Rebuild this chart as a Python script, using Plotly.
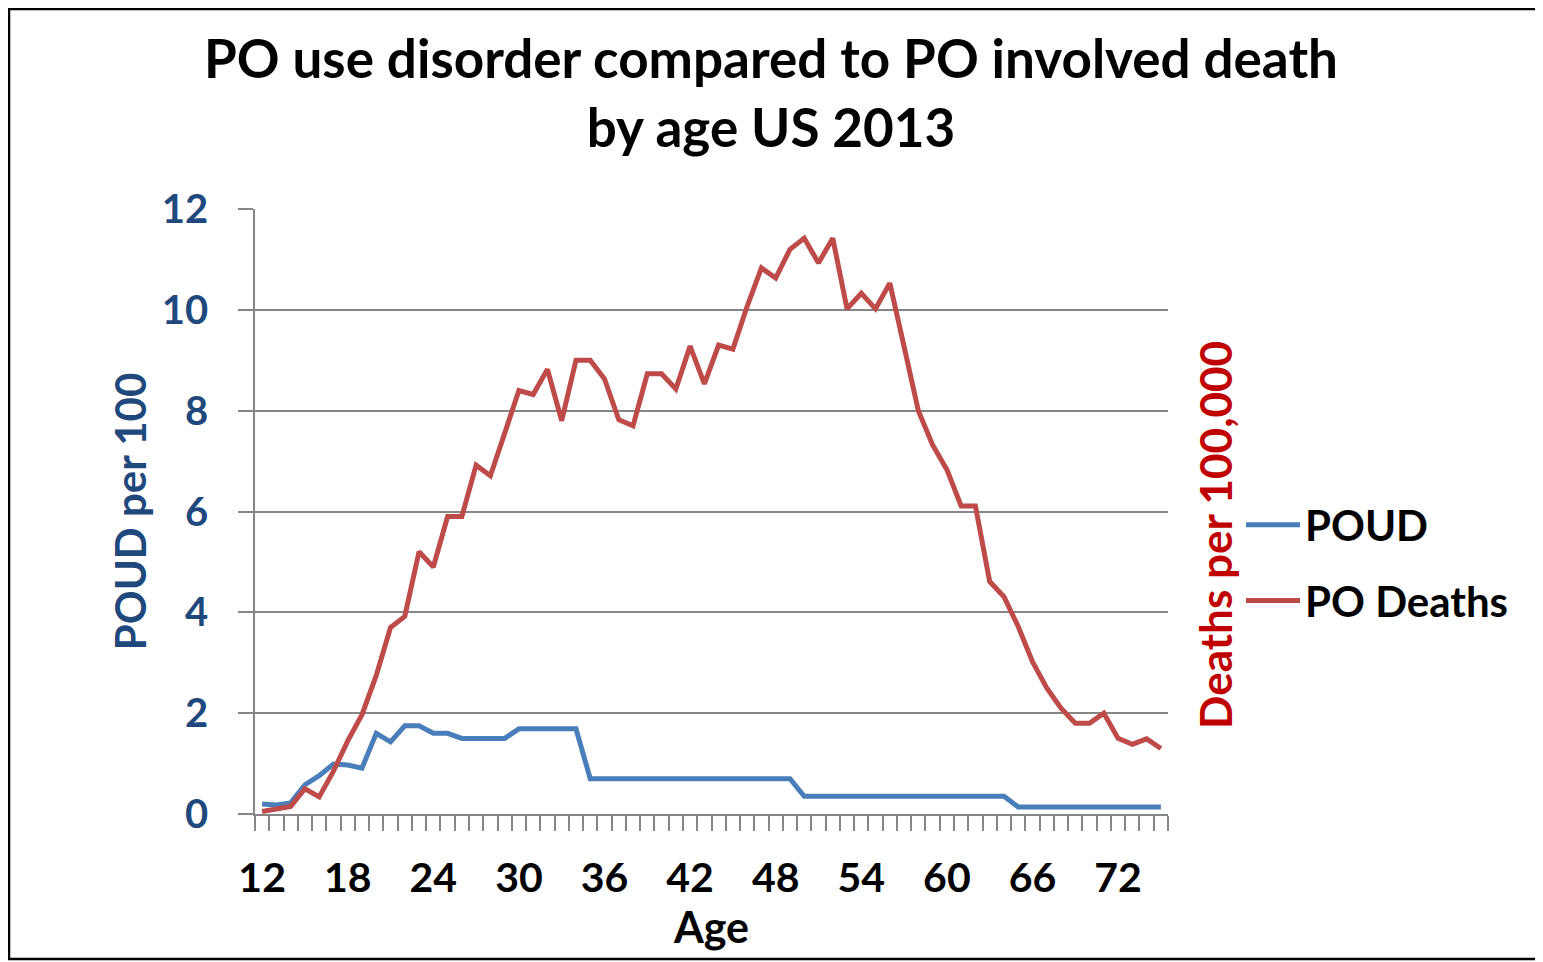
import plotly.graph_objects as go

ages = [12, 13, 14, 15, 16, 17, 18, 19, 20, 21, 22, 23, 24, 25, 26, 27,
        28, 29, 30, 31, 32, 33, 34, 35, 36, 37, 38, 39, 40, 41, 42, 43,
        44, 45, 46, 47, 48, 49, 50, 51, 52, 53, 54, 55, 56, 57, 58, 59,
        60, 61, 62, 63, 64, 65, 66, 67, 68, 69, 70, 71, 72, 73, 74, 75]

poud = [0.20, 0.18, 0.22, 0.58, 0.76, 0.99, 0.97, 0.91, 1.60, 1.43, 1.75, 1.75,
        1.60, 1.60, 1.50, 1.50, 1.50, 1.50, 1.69, 1.69, 1.69, 1.69, 1.69, 0.70,
        0.70, 0.70, 0.70, 0.70, 0.70, 0.70, 0.70, 0.70, 0.70, 0.70, 0.70, 0.70,
        0.70, 0.70, 0.35, 0.35, 0.35, 0.35, 0.35, 0.35, 0.35, 0.35, 0.35, 0.35,
        0.35, 0.35, 0.35, 0.35, 0.35, 0.14, 0.14, 0.14, 0.14, 0.14, 0.14, 0.14,
        0.14, 0.14, 0.14, 0.14]

po_deaths = [0.05, 0.10, 0.15, 0.50, 0.34, 0.85, 1.45, 1.97, 2.75, 3.70, 3.92, 5.20,
             4.90, 5.90, 5.90, 6.92, 6.71, 7.55, 8.40, 8.32, 8.82, 7.80, 9.00, 9.00,
             8.63, 7.82, 7.70, 8.73, 8.73, 8.43, 9.28, 8.53, 9.30, 9.22, 10.07, 10.83,
             10.63, 11.20, 11.42, 10.93, 11.42, 10.02, 10.33, 10.02, 10.53, 9.27, 8.00, 7.32,
             6.83, 6.11, 6.11, 4.61, 4.31, 3.72, 3.02, 2.50, 2.10, 1.80, 1.80, 2.00,
             1.50, 1.38, 1.49, 1.30]

age_ticks = [12, 18, 24, 30, 36, 42, 48, 54, 60, 66, 72]
y_ticks = [0, 2, 4, 6, 8, 10, 12]

title_text = "PO use disorder compared to PO involved death<br>by age US 2013"
right_axis_title = "Deaths per 100,000"

FONT = "Lato"
GRID = "#868686"
BLUE = "#4A7EBB"
RED = "#BE4B48"
NAVY = "#1F497D"
DARKRED = "#C00000"

fig = go.Figure()
fig.add_trace(go.Scatter(x=ages, y=poud, mode="lines", name="POUD",
                         legendgroup="a",
                         line=dict(color=BLUE, width=5)))
fig.add_trace(go.Scatter(x=ages, y=po_deaths, mode="lines", name="PO Deaths",
                         legendgroup="b", yaxis="y2",
                         line=dict(color=RED, width=5)))

# page body has an 8px margin, so the figure is 8px smaller and margins shifted
W, H = 1535, 954
L, T = 247, 201
pw, ph = 913, 605
R = W - L - pw
B = H - T - ph

fig.update_layout(
    width=W, height=H,
    margin=dict(l=L, r=R, t=T, b=B, autoexpand=False),
    paper_bgcolor="white", plot_bgcolor="white",
    font=dict(family=FONT, size=42, color="black", weight="bold"),
    title=dict(text=title_text, x=(771 - 8) / W, xanchor="center", xref="container",
               y=1 - 70 / H, yanchor="middle", yref="container",
               font=dict(family=FONT, size=53, color="black", weight="bold")),
    showlegend=True,
    legend=dict(x=(1241 - 8 - L) / pw, xanchor="left", y=(806 - 555) / ph, yanchor="middle",
                font=dict(family=FONT, size=42, color="black", weight="bold"),
                tracegroupgap=18, bgcolor="rgba(0,0,0,0)", itemwidth=54),
    xaxis=dict(range=[11.5, 75.5], tickmode="array", tickvals=age_ticks,
               ticktext=[str(a) for a in age_ticks],
               ticks="", showgrid=False, zeroline=False,
               showline=True, linecolor=GRID, linewidth=1.5,
               ticklabelstandoff=27,
               tickfont=dict(family=FONT, size=41, color="black", weight="bold"),
               minor=dict(tick0=11.5, dtick=1, ticks="outside", ticklen=15,
                          tickcolor=GRID, tickwidth=1.5, showgrid=False),
               title=dict(text="Age", standoff=4,
                          font=dict(family=FONT, size=43, color="black", weight="bold"))),
    yaxis=dict(range=[0, 12], tickmode="array", tickvals=y_ticks,
               ticks="outside", ticklen=15, tickcolor=GRID, tickwidth=1.5,
               showgrid=True, gridcolor=GRID, gridwidth=1.5, zeroline=False,
               showline=True, linecolor=GRID, linewidth=1.5,
               ticklabelstandoff=22,
               tickfont=dict(family=FONT, size=40, color=NAVY, weight="bold"),
               title=dict(text="POUD per 100", standoff=2,
                          font=dict(family=FONT, size=42, color=NAVY, weight="bold"))),
    yaxis2=dict(range=[0, 12], overlaying="y", side="right",
                showticklabels=False, ticks="", showgrid=False, zeroline=False,
                showline=False),
)

# right axis title, placed slightly below the plot's middle as in the original
fig.add_annotation(text=right_axis_title, textangle=-90,
                   xref="paper", yref="paper",
                   x=(1215 - 8 - L) / pw, y=(806 - 527) / ph,
                   xanchor="center", yanchor="middle", showarrow=False,
                   font=dict(family=FONT, size=44, color=DARKRED, weight="bold"))

# thin black frame around the whole picture
fig.add_shape(type="rect", xref="paper", yref="paper",
              x0=(1 - L) / pw, x1=(W - 3 - L) / pw,
              y0=-(B - 3) / ph, y1=1 + (T - 1) / ph,
              line=dict(color="black", width=2.5), fillcolor="rgba(0,0,0,0)",
              layer="above")

fig.write_html("out.html")
